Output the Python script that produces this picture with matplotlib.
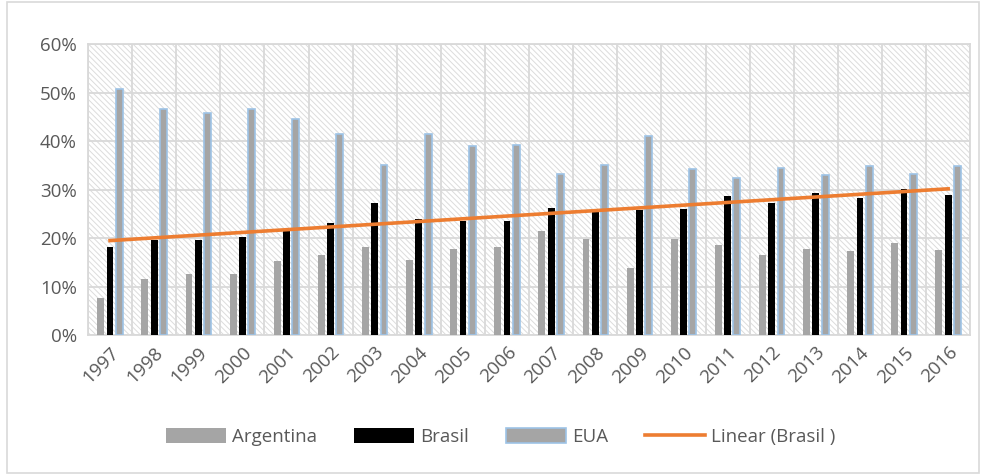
import numpy as np
import matplotlib.pyplot as plt
from matplotlib.patches import Rectangle
from matplotlib.lines import Line2D

plt.rcParams['font.family'] = ['Open Sans', 'DejaVu Sans']
plt.rcParams['hatch.color'] = '#DCDCDC'
plt.rcParams['hatch.linewidth'] = 0.7

years = [str(y) for y in range(1997, 2017)]
argentina = [7.6, 11.6, 12.6, 12.5, 15.2, 16.5, 18.2, 15.4, 17.7, 18.2,
             21.5, 19.9, 13.8, 19.8, 18.6, 16.6, 17.7, 17.4, 19.0, 17.5]
brasil = [18.2, 19.5, 19.6, 20.3, 21.7, 23.1, 27.2, 24.0, 23.6, 23.6,
          26.2, 25.4, 25.7, 25.9, 28.6, 27.2, 29.4, 28.3, 30.1, 28.8]
eua = [50.8, 46.7, 45.9, 46.6, 44.6, 41.4, 35.1, 41.4, 39.0, 39.3,
       33.2, 35.0, 41.0, 34.3, 32.3, 34.4, 33.0, 34.9, 33.2, 34.9]

x = np.arange(len(years))
# tendência linear do Brasil
coef = np.polyfit(x, brasil, 1)
trend = np.polyval(coef, x)

fig = plt.figure(figsize=(9.82, 4.75), dpi=100)
fig.patches.append(Rectangle((0.007, 0.005), 0.99, 0.99, transform=fig.transFigure,
                             fill=False, edgecolor='#D9D9D9', linewidth=1.2))
ax = fig.add_axes([0.0896, 0.2947, 0.8984, 0.6123])

# fundo hachurado
ax.add_patch(Rectangle((0, 0), 1, 1, transform=ax.transAxes, facecolor='white',
                       hatch='\\\\\\\\\\\\', edgecolor='#DCDCDC', linewidth=0, zorder=0))

w = 0.155
d = 0.21
ax.bar(x - d, argentina, w, color='#A5A5A5', label='Argentina', zorder=3)
ax.bar(x, brasil, w, color='black', label='Brasil', zorder=3)
ax.bar(x + d, eua, w, color='#A5A5A5', edgecolor='#9DC3E6', linewidth=1.2,
       label='EUA', zorder=3)
ax.plot(x, trend, color='#ED7D31', linewidth=2.6, label='Linear (Brasil )', zorder=4)

ax.set_xlim(-0.5, len(years) - 0.5)
ax.set_ylim(0, 60)
ax.set_yticks(range(0, 61, 10))
ax.set_yticklabels([f'{v}%' for v in range(0, 61, 10)])
ax.set_xticks(x)
ax.set_xticklabels(years, rotation=45, ha='right', rotation_mode='anchor')
ax.set_xticks(np.arange(-0.5, len(years), 1), minor=True)
ax.grid(axis='y', color='#D9D9D9', linewidth=1.3, zorder=1)
ax.grid(axis='x', which='minor', color='#D9D9D9', linewidth=1.3, zorder=1)
ax.set_axisbelow(True)
for s in ax.spines.values():
    s.set_color('#D9D9D9')
    s.set_linewidth(1.3)
ax.tick_params(axis='both', which='both', length=0, labelsize=13.5, colors='#595959')
ax.tick_params(axis='y', pad=8)
ax.tick_params(axis='x', pad=6)

handles = [Rectangle((0, 0), 1, 1, facecolor='#A5A5A5'),
           Rectangle((0, 0), 1, 1, facecolor='black'),
           Rectangle((0, 0), 1, 1, facecolor='#A5A5A5', edgecolor='#9DC3E6', linewidth=1.2),
           Line2D([0], [0], color='#ED7D31', linewidth=2.6)]
labels = ['Argentina', 'Brasil', 'EUA', 'Linear (Brasil )']
fig.legend(handles, labels, loc='center', bbox_to_anchor=(0.51, 0.08), ncol=4,
           frameon=False, fontsize=13.5, handlelength=3.2, handleheight=0.8,
           columnspacing=2.0, handletextpad=0.3, labelcolor='#595959')

fig.savefig('out.png', dpi=100)
